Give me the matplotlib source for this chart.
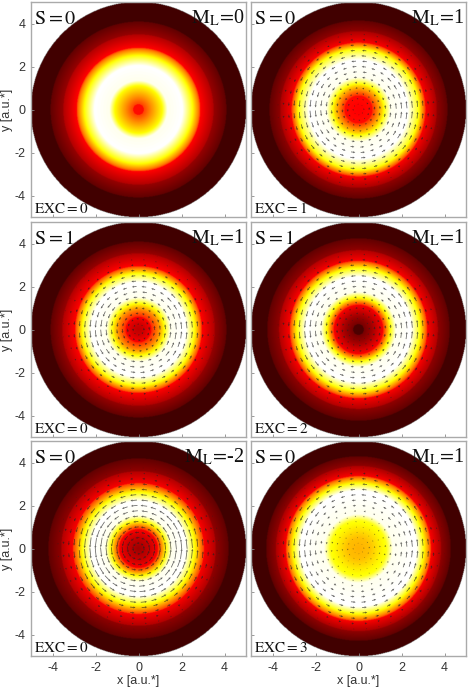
import numpy as np
import matplotlib
matplotlib.use("Agg")
import matplotlib.pyplot as plt

plt.rcParams["font.family"] = ["Liberation Sans", "DejaVu Sans"]
plt.rcParams["mathtext.fontset"] = "stix"

# radial density tables, colour value on the hot map (duplicate radius = step)
r_a = [0, 0.25, 0.2501, 0.6, 1.1, 1.35, 2.05, 2.5, 2.8, 2.88, 2.8801, 3.5, 3.5001, 4.1, 4.1001, 5.1]
v_a = [0.38, 0.38, 0.46, 0.58, 0.74, 0.98, 1.0, 0.76, 0.55, 0.45, 0.37, 0.25, 0.21, 0.13, 0.085, 0.085]

r_b = [0, 0.65, 0.6501, 1.1, 1.5, 2.3, 2.8, 3.05, 3.12, 3.1201, 3.65, 3.6501, 4.15, 4.1501, 5.1]
v_b = [0.36, 0.38, 0.43, 0.68, 0.98, 1.0, 0.76, 0.52, 0.44, 0.36, 0.24, 0.2, 0.13, 0.085, 0.085]

r_c = [0, 0.3, 0.6, 0.6001, 0.95, 1.2, 1.5, 2.2, 2.6, 2.85, 2.95, 2.9501, 3.55, 3.5501, 4.1, 4.1001, 5.1]
v_c = [0.27, 0.3, 0.36, 0.42, 0.58, 0.74, 0.98, 1.0, 0.76, 0.55, 0.46, 0.37, 0.25, 0.21, 0.13, 0.085, 0.085]

r_d = [0, 0.25, 0.2501, 0.6, 1.15, 1.1501, 1.45, 1.75, 2.45, 2.85, 3.1, 3.2, 3.2001, 3.7, 3.7001, 4.25, 4.2501, 5.1]
v_d = [0.1, 0.1, 0.16, 0.22, 0.36, 0.42, 0.72, 0.98, 1.0, 0.76, 0.55, 0.45, 0.36, 0.25, 0.2, 0.13, 0.085, 0.085]

r_e = [0, 0.5, 0.9, 0.9001, 1.25, 1.55, 2.2, 2.6, 2.95, 3.05, 3.0501, 3.6, 3.6001, 4.2, 4.2001, 5.1]
v_e = [0.22, 0.28, 0.36, 0.42, 0.72, 0.98, 1.0, 0.76, 0.52, 0.45, 0.36, 0.25, 0.2, 0.13, 0.085, 0.085]

r_f = [0, 0.5, 1.0, 1.3, 1.6, 2.7, 3.0, 3.3, 3.38, 3.3801, 3.85, 3.8501, 4.3, 4.3001, 5.1]
v_f = [0.63, 0.65, 0.72, 0.76, 0.98, 1.0, 0.78, 0.55, 0.45, 0.36, 0.24, 0.2, 0.13, 0.085, 0.085]

# current arrows: ring radius, arrows per ring, length per ring
ring_r = [0.25, 0.5, 0.75, 1.0, 1.25, 1.5, 1.75, 2.0, 2.25, 2.5, 2.75, 3.0, 3.25, 3.5, 3.75, 4.0]
ring_n = [8, 12, 16, 20, 20, 24, 24, 28, 28, 32, 32, 32, 36, 36, 40, 40]

len_b = [0.05, 0.08, 0.1, 0.1, 0.12, 0.16, 0.2, 0.22, 0.24, 0.24, 0.22, 0.18, 0.12, 0.07, 0.03, 0.01]
len_c = [0.08, 0.12, 0.14, 0.14, 0.16, 0.2, 0.24, 0.24, 0.24, 0.22, 0.18, 0.12, 0.07, 0.03, 0.015, 0.01]
len_d = [0.03, 0.06, 0.09, 0.1, 0.1, 0.12, 0.16, 0.2, 0.24, 0.24, 0.24, 0.2, 0.14, 0.08, 0.03, 0.01]
len_e = [0.14, 0.2, 0.22, 0.24, 0.26, 0.28, 0.32, 0.34, 0.34, 0.32, 0.28, 0.22, 0.14, 0.08, 0.04, 0.015]
len_f = [0.04, 0.05, 0.05, 0.05, 0.06, 0.07, 0.1, 0.16, 0.2, 0.24, 0.24, 0.24, 0.2, 0.12, 0.05, 0.02]
len_a = None

# relative arrow length by angle sector, strongest left and right
sector_w = [1.4, 1.1, 0.8, 0.9, 0.8, 1.1, 1.4, 1.1, 0.8, 0.9, 0.8, 1.1]

spin_labels = ["S=0", "S=0", "S=1", "S=1", "S=0", "S=0"]
ml_labels = ["0", "1", "1", "1", "-2", "1"]
exc_labels = ["EXC=0", "EXC=1", "EXC=0", "EXC=2", "EXC=0", "EXC=3"]
ticks = [-4, -2, 0, 2, 4]

panels = [(r_a, v_a, len_a), (r_b, v_b, len_b), (r_c, v_c, len_c),
          (r_d, v_d, len_d), (r_e, v_e, len_e), (r_f, v_f, len_f)]

W, H = 469, 693
lefts = [31, 251]
tops = [2, 222, 441]
size = 215

fig = plt.figure(figsize=(W / 100, H / 100), dpi=100)

gx = np.linspace(-5, 5, 431)
GX, GY = np.meshgrid(gx, gx)
dist = np.hypot(GX, GY)
for i, (rr, vv, lens) in enumerate(panels):
    col, row = i % 2, i // 2
    ax = fig.add_axes([lefts[col] / W, 1 - (tops[row] + size) / H, size / W, size / H])
    Z = np.ma.masked_where(dist > 5.02, np.interp(dist, rr, vv))
    ax.imshow(Z, cmap="hot", vmin=0, vmax=1, extent=[-5, 5, -5, 5], origin="lower",
              interpolation="bilinear")

    if lens is not None:
        for r0, n, ln in zip(ring_r, ring_n, lens):
            a = np.arange(n) * 2 * np.pi / n + 0.1
            w = np.array(sector_w)[(a / (2 * np.pi) * 12 + 0.5).astype(int) % 12]
            x, y = r0 * np.cos(a), r0 * np.sin(a)
            ax.quiver(x, y, -ln * w * np.sin(a), ln * w * np.cos(a), angles="xy", scale_units="xy",
                      scale=1, units="xy", width=0.035, headwidth=3, headlength=3,
                      headaxislength=2.5, minlength=0.2, color="#222222", alpha=0.7,
                      pivot="mid", zorder=3)

    ax.set_xlim(-5, 5)
    ax.set_ylim(-5, 5)
    ax.set_xticks(ticks)
    ax.set_yticks(ticks)
    ax.set_xticklabels([str(t) for t in ticks])
    ax.set_yticklabels([str(t) for t in ticks])
    ax.tick_params(direction="in", length=2, width=0.6, color="#888888",
                   labelcolor="#333333", labelsize=9, pad=4,
                   labelleft=col == 0, labelbottom=row == 2)
    for s in ax.spines.values():
        s.set_color("#aaaaaa")
        s.set_linewidth(1.0)
    if col == 0:
        ax.set_ylabel("y [a.u.*]", fontsize=9, color="#333333", labelpad=1)
    if row == 2:
        ax.set_xlabel("x [a.u.*]", fontsize=9, color="#333333", labelpad=1)

    ax.text(-4.85, 4.25, r"$\mathrm{%s}$" % spin_labels[i], fontsize=14.5, color="#111111", va="center")
    ax.text(4.92, 4.25, r"$\mathrm{M_L}\!=\!$" + ml_labels[i], family="Liberation Serif", fontsize=14.5,
            color="#111111", va="center", ha="right")
    ax.text(-4.85, -4.62, r"$\mathrm{%s}$" % exc_labels[i], fontsize=11, color="#111111", va="center")

fig.savefig("out.png", dpi=100)
